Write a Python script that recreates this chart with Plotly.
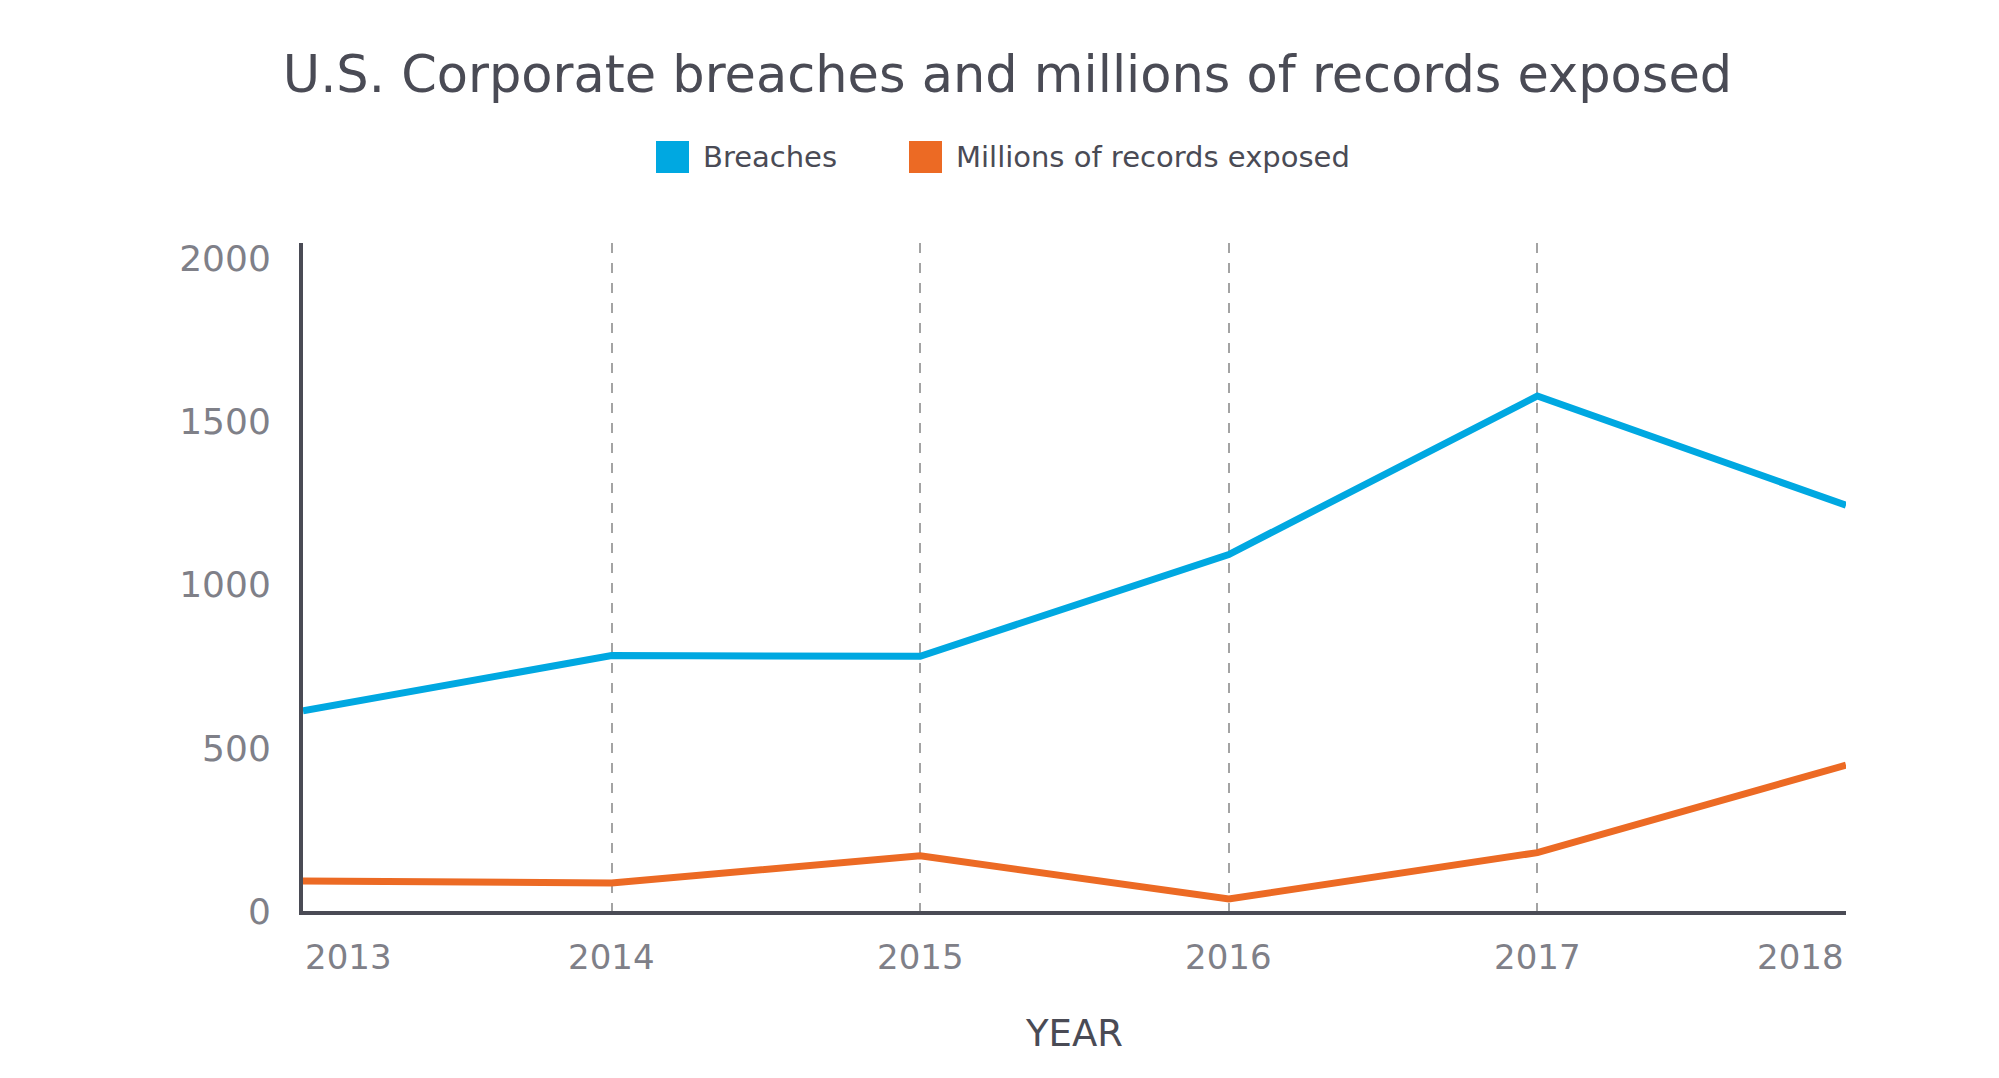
import plotly.graph_objects as go

years = [2013, 2014, 2015, 2016, 2017, 2018]
breaches = [614, 783, 781, 1093, 1579, 1244]
records_exposed = [92, 86, 169, 37, 179, 447]
series_names = ["Breaches", "Millions of records exposed"]
y_ticks = [0, 500, 1000, 1500, 2000]

BLUE = "#00a8e1"
ORANGE = "#ec6a24"
DARK = "#4a4b55"
GREY = "#7f8088"
FONT = "DejaVu Sans"

W, H = 1999, 1078
# plot area in pixels
L, R, T, B = 295, 1838, 235, 903


def px_x(x):
    # figure pixel -> paper (plot-area) fraction
    return (x - L) / (R - L)


def px_y(y):
    return (B - y) / (B - T)


fig = go.Figure()
fig.add_trace(go.Scatter(x=years, y=breaches, mode="lines", name=series_names[0],
                         line=dict(color=BLUE, width=7)))
fig.add_trace(go.Scatter(x=years, y=records_exposed, mode="lines", name=series_names[1],
                         line=dict(color=ORANGE, width=7)))

# x tick labels as annotations so the end labels sit inside the plot edges
for i, yr in enumerate(years):
    anchor = "left" if i == 0 else ("right" if i == len(years) - 1 else "center")
    fig.add_annotation(x=yr, y=0, xref="x", yref="paper", yshift=-46, text=str(yr),
                       showarrow=False, xanchor=anchor, yanchor="middle",
                       font=dict(family=FONT, size=34, color=GREY))

# legend drawn by hand: large squares with labels
legend_items = [(series_names[0], BLUE, 648), (series_names[1], ORANGE, 901)]
for name, color, sq_x in legend_items:
    fig.add_shape(type="rect", xref="paper", yref="paper",
                  x0=px_x(sq_x), x1=px_x(sq_x + 33),
                  y0=px_y(165), y1=px_y(133),
                  fillcolor=color, line_width=0)
    fig.add_annotation(x=px_x(sq_x + 45), y=px_y(149), xref="paper", yref="paper",
                       text=name, showarrow=False, xanchor="left", yanchor="middle",
                       font=dict(family=FONT, size=29, color=DARK))

fig.update_layout(
    width=W, height=H,
    paper_bgcolor="white", plot_bgcolor="white",
    margin=dict(l=L, r=W - R, t=T, b=H - B),
    title=dict(text="U.S. Corporate breaches and millions of records exposed",
               x=0.5, xanchor="center", xref="container", y=1 - 66 / H, yanchor="middle",
               font=dict(family=FONT, size=51, color=DARK)),
    showlegend=False,
)
fig.update_xaxes(range=[2013, 2018], tickvals=years, showticklabels=False,
                 showgrid=True, griddash="10px,10px", gridcolor="#a3a3a3", gridwidth=2,
                 showline=True, linecolor=DARK, linewidth=4, zeroline=False,
                 title=dict(text="YEAR", standoff=107,
                            font=dict(family=FONT, size=37, color=DARK)))
fig.update_yaxes(range=[0, 2048], tickvals=y_ticks, showgrid=False, zeroline=False,
                 showline=True, linecolor=DARK, linewidth=4, ticks="",
                 ticklabelstandoff=21,
                 tickfont=dict(family=FONT, size=36, color=GREY))

fig.write_html("out.html")
